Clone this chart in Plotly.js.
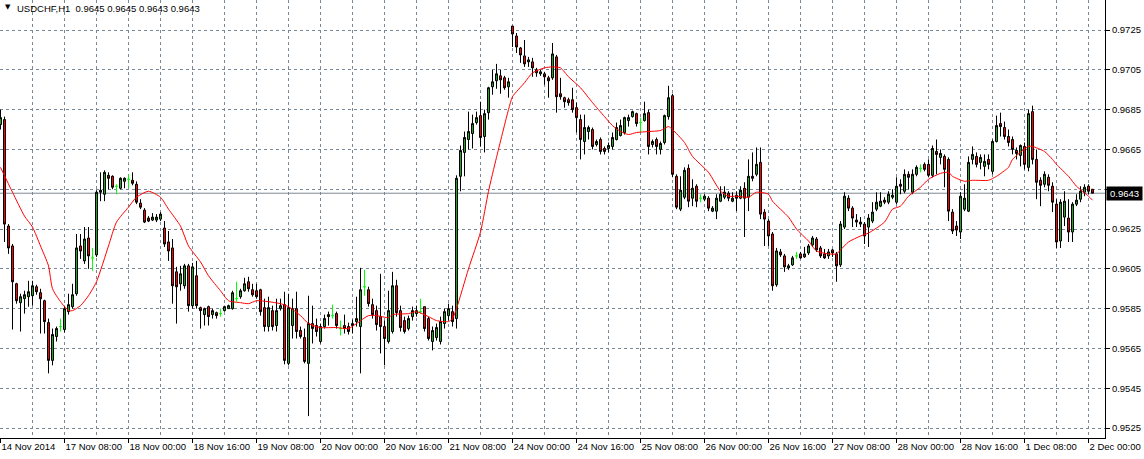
<!DOCTYPE html>
<html><head><meta charset="utf-8">
<script src="https://cdn.plot.ly/plotly-3.0.1.min.js"></script>
<style>html,body{margin:0;padding:0;background:#fff;}#chart{width:1144px;height:459px;}</style>
</head><body><div id="chart"></div>
<script>
// USDCHF H1 hourly bars, first bar = 14 Nov 2014 16:00
const openPrices = [
0.96775,0.96800,0.96265,0.96165,0.95975,0.95880,0.95900,0.95910,0.95915,0.95960,
0.95930,0.95890,0.95780,0.95590,0.95710,0.95760,0.95745,0.95835,0.95860,0.95925,
0.96165,0.96090,0.96205,0.96105,0.96120,0.96435,0.96425,0.96520,0.96515,0.96465,
0.96455,0.96490,0.96500,0.96495,0.96475,0.96380,0.96345,0.96305,0.96295,0.96295,
0.96300,0.96255,0.96185,0.96155,0.96035,0.95975,0.95965,0.96065,0.95865,0.96015,
0.95855,0.95820,0.95860,0.95820,0.95830,0.95825,0.95840,0.95850,0.95850,0.95900,
0.95910,0.95940,0.95985,0.95945,0.95940,0.95945,0.95855,0.95760,0.95840,0.95765,
0.95850,0.95870,0.95575,0.95765,0.95850,0.95740,0.95705,0.95575,0.95775,0.95765,
0.95685,0.95760,0.95810,0.95815,0.95825,0.95750,0.95765,0.95760,0.95765,0.95785,
0.95760,0.95960,0.95945,0.95870,0.95840,0.95810,0.95760,0.95685,0.95735,0.95965,
0.95840,0.95790,0.95750,0.95810,0.95825,0.95835,0.95860,0.95800,0.95685,0.95705,
0.95685,0.95775,0.95815,0.95835,0.95800,0.96515,0.96635,0.96700,0.96730,0.96785,
0.96820,0.96715,0.96835,0.96965,0.96995,0.97020,0.97010,0.96965,0.97270,0.97220,
0.97160,0.97120,0.97090,0.97090,0.97050,0.97030,0.97030,0.97010,0.97010,0.97115,
0.96930,0.96910,0.96900,0.96900,0.96860,0.96800,0.96690,0.96740,0.96750,0.96675,
0.96700,0.96655,0.96655,0.96665,0.96700,0.96720,0.96735,0.96795,0.96815,0.96830,
0.96785,0.96795,0.96835,0.96675,0.96700,0.96650,0.96685,0.96815,0.96920,0.96515,
0.96350,0.96410,0.96555,0.96405,0.96465,0.96405,0.96400,0.96405,0.96340,0.96340,
0.96390,0.96410,0.96430,0.96390,0.96420,0.96405,0.96455,0.96410,0.96505,0.96525,
0.96585,0.96335,0.96290,0.96225,0.95970,0.96135,0.96115,0.96055,0.96070,0.96115,
0.96125,0.96110,0.96130,0.96170,0.96200,0.96155,0.96125,0.96115,0.96145,0.96125,
0.96070,0.96260,0.96405,0.96355,0.96295,0.96275,0.96275,0.96260,0.96290,0.96350,
0.96365,0.96395,0.96385,0.96410,0.96385,0.96475,0.96440,0.96525,0.96435,0.96525,
0.96555,0.96575,0.96575,0.96520,0.96640,0.96610,0.96615,0.96600,0.96335,0.96265,
0.96235,0.96350,0.96340,0.96600,0.96615,0.96585,0.96565,0.96600,0.96540,0.96690,
0.96780,0.96760,0.96715,0.96700,0.96645,0.96620,0.96665,0.96560,0.96840,0.96600,
0.96495,0.96475,0.96510,0.96465,0.96375,0.96190,0.96310,0.96305,0.96235,0.96375,
0.96400,0.96435,0.96465,0.96450];
const highPrices = [
0.96850,0.96815,0.96275,0.96175,0.95980,0.95925,0.95940,0.95990,0.95990,0.95970,
0.95950,0.95895,0.95800,0.95750,0.95760,0.95800,0.95865,0.95925,0.95975,0.96225,
0.96225,0.96260,0.96260,0.96155,0.96445,0.96535,0.96545,0.96535,0.96520,0.96475,
0.96510,0.96510,0.96525,0.96535,0.96490,0.96400,0.96355,0.96315,0.96330,0.96325,
0.96335,0.96290,0.96240,0.96200,0.96060,0.96065,0.96075,0.96075,0.96080,0.96090,
0.95860,0.95855,0.95865,0.95850,0.95835,0.95850,0.95865,0.95870,0.95940,0.95985,
0.95950,0.96005,0.96010,0.95975,0.95975,0.95950,0.95900,0.95910,0.95865,0.95900,
0.95900,0.95935,0.95925,0.95900,0.95935,0.95760,0.95750,0.95915,0.95865,0.95800,
0.95775,0.95820,0.95835,0.95870,0.95835,0.95790,0.95820,0.95780,0.95795,0.95910,
0.96055,0.96045,0.95960,0.95900,0.95865,0.96025,0.95790,0.95940,0.96035,0.95995,
0.95865,0.95810,0.95815,0.95860,0.95865,0.95900,0.95860,0.95810,0.95760,0.95775,
0.95810,0.95850,0.95875,0.95865,0.96520,0.96670,0.96740,0.96840,0.96825,0.96840,
0.96890,0.96850,0.96965,0.97050,0.97080,0.97050,0.97020,0.97010,0.97270,0.97235,
0.97165,0.97200,0.97115,0.97110,0.97060,0.97050,0.97040,0.97020,0.97185,0.97125,
0.97010,0.96915,0.96910,0.96960,0.96885,0.96825,0.96825,0.96770,0.96760,0.96700,
0.96710,0.96665,0.96685,0.96735,0.96785,0.96800,0.96815,0.96825,0.96845,0.96835,
0.96810,0.96890,0.96850,0.96700,0.96710,0.96690,0.96825,0.96970,0.96930,0.96525,
0.96515,0.96560,0.96575,0.96500,0.96475,0.96425,0.96425,0.96415,0.96365,0.96425,
0.96465,0.96465,0.96440,0.96435,0.96440,0.96465,0.96485,0.96600,0.96635,0.96660,
0.96660,0.96350,0.96300,0.96235,0.96155,0.96150,0.96125,0.96075,0.96115,0.96135,
0.96135,0.96160,0.96175,0.96215,0.96210,0.96165,0.96150,0.96150,0.96150,0.96135,
0.96290,0.96435,0.96420,0.96365,0.96325,0.96310,0.96285,0.96325,0.96385,0.96435,
0.96435,0.96410,0.96440,0.96450,0.96510,0.96500,0.96550,0.96540,0.96550,0.96570,
0.96575,0.96585,0.96600,0.96670,0.96700,0.96650,0.96625,0.96610,0.96350,0.96290,
0.96435,0.96475,0.96615,0.96665,0.96635,0.96625,0.96625,0.96625,0.96700,0.96820,
0.96835,0.96790,0.96750,0.96715,0.96660,0.96675,0.96685,0.96850,0.96870,0.96650,
0.96510,0.96540,0.96525,0.96485,0.96400,0.96400,0.96440,0.96400,0.96385,0.96425,
0.96465,0.96475,0.96475,0.96450];
const lowPrices = [
0.96750,0.96185,0.96125,0.95745,0.95875,0.95735,0.95825,0.95860,0.95865,0.95920,
0.95725,0.95725,0.95525,0.95565,0.95685,0.95735,0.95730,0.95820,0.95850,0.95915,
0.96100,0.96075,0.96050,0.96040,0.96110,0.96390,0.96390,0.96450,0.96450,0.96425,
0.96450,0.96455,0.96455,0.96470,0.96375,0.96350,0.96280,0.96285,0.96290,0.96285,
0.96290,0.96160,0.96090,0.95875,0.95775,0.95940,0.95950,0.95835,0.95850,0.95850,
0.95750,0.95765,0.95765,0.95800,0.95800,0.95810,0.95835,0.95850,0.95845,0.95885,
0.95900,0.95935,0.95935,0.95910,0.95900,0.95815,0.95735,0.95735,0.95740,0.95735,
0.95840,0.95570,0.95565,0.95700,0.95700,0.95700,0.95575,0.95310,0.95675,0.95710,
0.95675,0.95750,0.95765,0.95800,0.95750,0.95715,0.95725,0.95720,0.95725,0.95760,
0.95525,0.95915,0.95860,0.95800,0.95740,0.95625,0.95565,0.95675,0.95725,0.95810,
0.95735,0.95725,0.95740,0.95790,0.95810,0.95825,0.95735,0.95690,0.95640,0.95690,
0.95670,0.95750,0.95790,0.95760,0.95750,0.96440,0.96515,0.96650,0.96655,0.96775,
0.96665,0.96635,0.96800,0.96925,0.96955,0.96930,0.96950,0.96910,0.97165,0.97135,
0.97085,0.97065,0.97065,0.97015,0.97015,0.97020,0.96975,0.96910,0.97000,0.96835,
0.96900,0.96860,0.96870,0.96835,0.96735,0.96600,0.96625,0.96700,0.96650,0.96665,
0.96625,0.96625,0.96635,0.96650,0.96695,0.96715,0.96725,0.96765,0.96810,0.96765,
0.96735,0.96790,0.96625,0.96660,0.96625,0.96625,0.96675,0.96800,0.96510,0.96350,
0.96340,0.96400,0.96360,0.96365,0.96360,0.96385,0.96390,0.96340,0.96335,0.96300,
0.96385,0.96400,0.96390,0.96385,0.96340,0.96400,0.96210,0.96340,0.96490,0.96515,
0.96300,0.96165,0.96165,0.95940,0.95960,0.96110,0.96035,0.96045,0.96065,0.96100,
0.96100,0.96105,0.96120,0.96160,0.96135,0.96105,0.96100,0.96100,0.96110,0.95985,
0.96060,0.96250,0.96340,0.96260,0.96260,0.96260,0.96175,0.96160,0.96280,0.96340,
0.96360,0.96375,0.96375,0.96400,0.96375,0.96425,0.96430,0.96450,0.96425,0.96515,
0.96535,0.96540,0.96510,0.96510,0.96525,0.96575,0.96460,0.96290,0.96225,0.96215,
0.96200,0.96340,0.96335,0.96575,0.96560,0.96550,0.96515,0.96550,0.96525,0.96685,
0.96715,0.96700,0.96665,0.96625,0.96600,0.96565,0.96550,0.96540,0.96575,0.96400,
0.96365,0.96460,0.96440,0.96335,0.96155,0.96155,0.96265,0.96185,0.96185,0.96365,
0.96385,0.96415,0.96425,0.96430];
const closePrices = [
0.96810,0.96275,0.96155,0.95985,0.95890,0.95910,0.95920,0.95935,0.95965,0.95935,
0.95900,0.95785,0.95590,0.95720,0.95750,0.95760,0.95850,0.95870,0.95920,0.96155,
0.96140,0.96200,0.96115,0.96105,0.96435,0.96445,0.96535,0.96505,0.96460,0.96465,
0.96505,0.96505,0.96500,0.96480,0.96385,0.96360,0.96285,0.96290,0.96310,0.96310,
0.96325,0.96175,0.96140,0.95965,0.95960,0.96025,0.96065,0.95865,0.96060,0.95865,
0.95840,0.95850,0.95810,0.95840,0.95815,0.95825,0.95860,0.95865,0.95930,0.95900,
0.95940,0.95975,0.95950,0.95920,0.95910,0.95835,0.95760,0.95855,0.95760,0.95840,
0.95865,0.95590,0.95855,0.95850,0.95735,0.95710,0.95585,0.95775,0.95750,0.95735,
0.95760,0.95800,0.95820,0.95815,0.95765,0.95750,0.95750,0.95735,0.95775,0.95800,
0.95945,0.95960,0.95875,0.95820,0.95770,0.95760,0.95700,0.95840,0.95965,0.95830,
0.95755,0.95735,0.95800,0.95840,0.95840,0.95835,0.95750,0.95700,0.95740,0.95755,
0.95785,0.95835,0.95850,0.95785,0.96505,0.96645,0.96710,0.96740,0.96780,0.96810,
0.96710,0.96830,0.96960,0.96990,0.97030,0.97000,0.96960,0.96990,0.97230,0.97165,
0.97125,0.97080,0.97100,0.97060,0.97035,0.97040,0.97015,0.96995,0.97130,0.96915,
0.96915,0.96890,0.96885,0.96850,0.96810,0.96700,0.96760,0.96760,0.96665,0.96690,
0.96640,0.96640,0.96670,0.96710,0.96760,0.96770,0.96810,0.96810,0.96840,0.96780,
0.96785,0.96830,0.96665,0.96690,0.96665,0.96680,0.96820,0.96910,0.96525,0.96360,
0.96445,0.96545,0.96390,0.96455,0.96390,0.96405,0.96415,0.96355,0.96355,0.96405,
0.96425,0.96435,0.96405,0.96405,0.96405,0.96445,0.96405,0.96515,0.96515,0.96575,
0.96325,0.96300,0.96215,0.95965,0.96140,0.96120,0.96060,0.96065,0.96105,0.96115,
0.96105,0.96125,0.96165,0.96205,0.96145,0.96115,0.96105,0.96135,0.96130,0.96065,
0.96275,0.96415,0.96355,0.96305,0.96285,0.96285,0.96215,0.96305,0.96335,0.96385,
0.96390,0.96385,0.96425,0.96420,0.96465,0.96465,0.96525,0.96510,0.96525,0.96560,
0.96555,0.96550,0.96520,0.96655,0.96625,0.96630,0.96550,0.96340,0.96240,0.96245,
0.96415,0.96405,0.96585,0.96625,0.96575,0.96610,0.96590,0.96575,0.96690,0.96770,
0.96765,0.96715,0.96685,0.96650,0.96630,0.96670,0.96575,0.96830,0.96600,0.96485,
0.96470,0.96525,0.96470,0.96385,0.96185,0.96385,0.96390,0.96235,0.96375,0.96395,
0.96440,0.96460,0.96440,0.96430];

// red moving-average line, read at these bars
const maBars = [0,3,6,8,10,12,13,15,17,18,20,22,24,27,29,32,34,37,40,42,45,47,50,52,55,57,60,62,64,67,
70,72,75,77,80,84,87,89,92,94,97,98,102,104,107,109,112,113,114,117,120,122,124,127,128,131,133,136,138,140,
142,145,148,151,153,155,157,159,162,165,167,168,171,173,177,180,182,184,187,189,192,193,197,199,202,204,207,209,210,212,
215,217,221,223,225,227,230,232,235,237,238,241,243,247,249,252,253,257,258,261,263,264,267,269,272,273];
const maValues = [0.96560,0.96435,0.96315,0.96260,0.96165,0.96065,0.95950,0.95885,0.95840,0.95840,
0.95865,0.95915,0.95985,0.96165,0.96285,0.96360,0.96410,0.96440,0.96410,0.96350,
0.96265,0.96165,0.96085,0.96015,0.95940,0.95890,0.95880,0.95875,0.95890,0.95885,
0.95875,0.95860,0.95815,0.95775,0.95755,0.95755,0.95750,0.95775,0.95815,0.95815,
0.95805,0.95820,0.95825,0.95835,0.95810,0.95790,0.95785,0.95800,0.95850,0.96050,
0.96235,0.96440,0.96610,0.96850,0.96915,0.96985,0.97035,0.97060,0.97065,0.97060,
0.97015,0.96960,0.96885,0.96815,0.96770,0.96740,0.96725,0.96735,0.96740,0.96745,
0.96765,0.96750,0.96685,0.96615,0.96535,0.96440,0.96415,0.96415,0.96410,0.96435,
0.96425,0.96390,0.96310,0.96250,0.96190,0.96140,0.96125,0.96125,0.96145,0.96185,
0.96215,0.96230,0.96285,0.96350,0.96365,0.96415,0.96460,0.96500,0.96530,0.96535,
0.96515,0.96490,0.96495,0.96495,0.96515,0.96560,0.96600,0.96665,0.96665,0.96640,
0.96600,0.96575,0.96515,0.96465,0.96415,0.96395];

const tickBars = [0,16,32,48,64,80,96,112,128,144,160,176,192,208,224,240,256,272];
const tickLabels = ["14 Nov 2014","17 Nov 08:00","18 Nov 00:00","18 Nov 16:00","19 Nov 08:00",
"20 Nov 00:00","20 Nov 16:00","21 Nov 08:00","24 Nov 00:00","24 Nov 16:00","25 Nov 08:00",
"26 Nov 00:00","26 Nov 16:00","27 Nov 08:00","28 Nov 00:00","28 Nov 16:00","1 Dec 08:00","2 Dec 00:00"];
const priceTicks = [0.9525,0.9545,0.9565,0.9585,0.9605,0.9625,0.9645,0.9665,0.9685,0.9705,0.9725];
const symbolTitle = "USDCHF,H1";

const barIndex = openPrices.map((_, i) => i);
const normal = barIndex.filter(i => openPrices[i] !== closePrices[i]);
const doji = barIndex.filter(i => openPrices[i] === closePrices[i]);
const pick = (arr, idx) => idx.map(i => arr[i]);

const GREEN = '#1fa81f', RED = '#ff0000', LIME = '#00ff00', GRID = '#778899';
const lastIdx = closePrices.length - 1;
const lastClose = closePrices[lastIdx];
const f4 = v => v.toFixed(4);
const FONT = '"Liberation Sans", Arial, sans-serif';

const traces = [
  {type:'candlestick', x: pick(barIndex, normal), open: pick(openPrices, normal), high: pick(highPrices, normal),
   low: pick(lowPrices, normal), close: pick(closePrices, normal), whiskerwidth: 0, hoverinfo:'skip',
   increasing:{line:{color:'#000', width:1}, fillcolor: GREEN},
   decreasing:{line:{color:'#000', width:1}, fillcolor: RED}},
  {type:'candlestick', x: pick(barIndex, doji), open: pick(openPrices, doji), high: pick(highPrices, doji),
   low: pick(lowPrices, doji), close: pick(closePrices, doji), whiskerwidth: 0, hoverinfo:'skip',
   increasing:{line:{color:LIME, width:1}, fillcolor: LIME},
   decreasing:{line:{color:LIME, width:1}, fillcolor: LIME}},
  {type:'scatter', mode:'lines', x: maBars, y: maValues, line:{color:RED, width:1, shape:'spline', smoothing:0.6}, hoverinfo:'skip'}
];

const PLOT_H = 438;
const layout = {
  width:1144, height:459,
  margin:{l:0, r:39, t:0, b:21, pad:0},
  paper_bgcolor:'#ffffff', plot_bgcolor:'#ffffff',
  showlegend:false,
  boxgap:0.5, boxgroupgap:0, boxmode:'overlay',
  font:{family:FONT, size:9.5, color:'#000'},
  xaxis:{
    range:[-0.125, 276.125], tickmode:'array', tickvals: tickBars, ticktext: tickLabels,
    tickangle:0, automargin:false,
    ticks:'outside', ticklen:4, tickcolor:'#000', tickwidth:1,
    ticklabelposition:'outside right', ticklabelstandoff:0,
    showgrid:true, gridcolor:GRID, gridwidth:1, griddash:'3px,3px',
    minor:{tickmode:'linear', tick0:8, dtick:16, showgrid:true, gridcolor:GRID, gridwidth:1, griddash:'3px,3px', ticks:''},
    showline:true, linecolor:'#000', linewidth:1, zeroline:false,
    rangeslider:{visible:false}, fixedrange:true,
    tickfont:{family:FONT, size:9.5, color:'#000'}
  },
  yaxis:{
    side:'right', range:[0.95200, 0.97401], tickmode:'array', tickvals: priceTicks,
    ticktext: priceTicks.map(f4), automargin:false,
    ticks:'outside', ticklen:4, tickcolor:'#000', tickwidth:1,
    showgrid:true, gridcolor:GRID, gridwidth:1, griddash:'3px,3px',
    showline:true, linecolor:'#000', linewidth:1, zeroline:false, fixedrange:true,
    tickfont:{family:FONT, size:9.5, color:'#000'}
  },
  shapes:[
    {type:'line', xref:'paper', x0:0, x1:1, yref:'y', y0:lastClose, y1:lastClose,
     line:{color:'#7f8894', width:1}, layer:'below'}
  ],
  annotations:[
    {xref:'paper', yref:'paper', x:3/1105, y:1-7/PLOT_H, xanchor:'left', yanchor:'middle',
     text:'\u25BC', showarrow:false, font:{family:'"DejaVu Sans", sans-serif', size:7, color:'#000'}},
    {xref:'paper', yref:'paper', x:15/1105, y:1-8/PLOT_H, xanchor:'left', yanchor:'middle',
     text: symbolTitle + '\u00A0\u00A0' + [openPrices[lastIdx], highPrices[lastIdx], lowPrices[lastIdx], closePrices[lastIdx]].map(f4).join(' '),
     showarrow:false, font:{family:FONT, size:9.5, color:'#000'}},
    {xref:'paper', yref:'y', x:1, y:lastClose, xanchor:'left', yanchor:'middle', xshift:1,
     text: f4(lastClose), showarrow:false, bgcolor:'#000', borderpad:1, width:33, height:11, align:'center',
     font:{family:FONT, size:9.5, color:'#fff'}}
  ]
};

Plotly.newPlot('chart', traces, layout, {staticPlot:true, displayModeBar:false});
</script>
</body></html>
